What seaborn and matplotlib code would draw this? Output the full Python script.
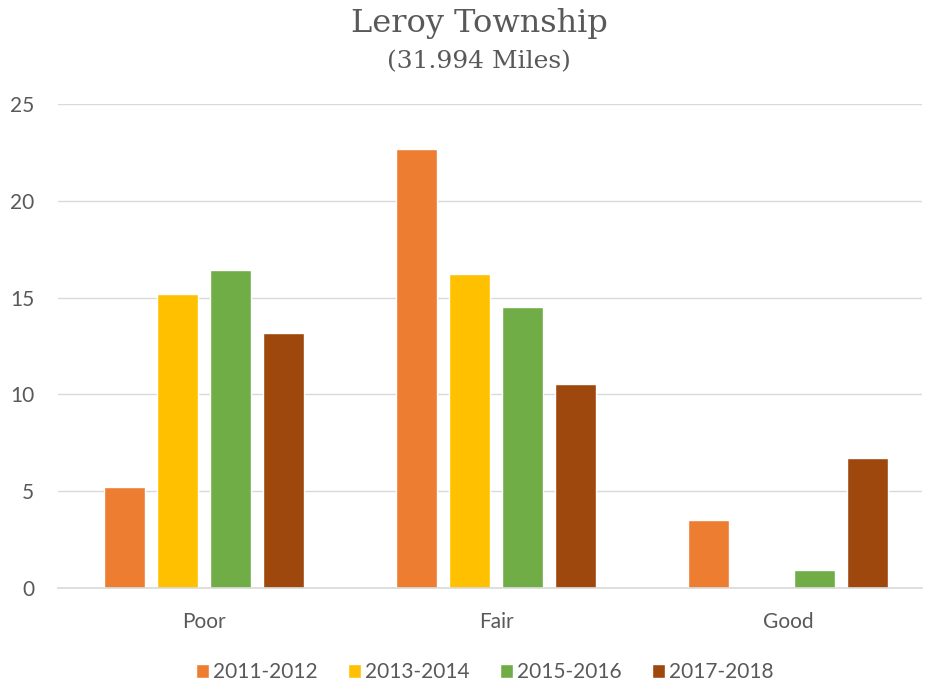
import pandas as pd
import matplotlib
matplotlib.use("Agg")
import matplotlib.pyplot as plt
import seaborn as sns

# valores
condicoes = ["Poor", "Fair", "Good"]
periodos = ["2011-2012", "2013-2014", "2015-2016", "2017-2018"]
v_2011 = [5.22, 22.68, 3.51]
v_2013 = [15.19, 16.22, 0.0]
v_2015 = [16.43, 14.51, 0.93]
v_2017 = [13.17, 10.54, 6.71]
cores = ["#ED7D31", "#FFC000", "#70AD47", "#9E480E"]

linhas = []
for periodo, valores in zip(periodos, [v_2011, v_2013, v_2015, v_2017]):
    for cond, v in zip(condicoes, valores):
        linhas.append({"Condicao": cond, "Periodo": periodo, "Milhas": v})
df = pd.DataFrame(linhas)

sns.set_style("white")
plt.rcParams["font.family"] = ["Lato", "DejaVu Sans"]

fig = plt.figure(figsize=(9.25, 6.86), dpi=100)
ax = fig.add_axes([0.0627, 0.1429, 0.934, 0.7055])

sns.barplot(data=df, x="Condicao", y="Milhas", hue="Periodo", order=condicoes,
            hue_order=periodos, palette=cores, width=0.726, gap=0.226,
            saturation=1, ax=ax)

ax.set_ylim(0, 25)
ax.set_xlim(-0.5, 2.459)
ax.set_yticks([0, 5, 10, 15, 20, 25])
ax.yaxis.grid(True, color="#D9D9D9", linewidth=1)
ax.set_axisbelow(True)
for lado in ["top", "right", "left"]:
    ax.spines[lado].set_visible(False)
ax.spines["bottom"].set_color("#D9D9D9")
ax.spines["bottom"].set_linewidth(1.2)
ax.tick_params(axis="both", length=0, labelsize=15, labelcolor="#595959")
ax.tick_params(axis="x", pad=17)
ax.tick_params(axis="y", pad=17)
ax.set_xlabel("")
ax.set_ylabel("")

ax.legend(loc="center", bbox_to_anchor=(0.494, -0.174), ncol=4, frameon=False,
          fontsize=15, handlelength=0.63, handleheight=0.63, handletextpad=0.2,
          columnspacing=1.45, labelcolor="#595959")

fig.text(0.518, 0.966, "Leroy Township", ha="center", va="center", fontsize=23,
         family="DejaVu Serif", color="#595959")
fig.text(0.518, 0.910, "(31.994 Miles)", ha="center", va="center", fontsize=18,
         family="DejaVu Serif", color="#595959")

fig.savefig("out.png", dpi=100)
